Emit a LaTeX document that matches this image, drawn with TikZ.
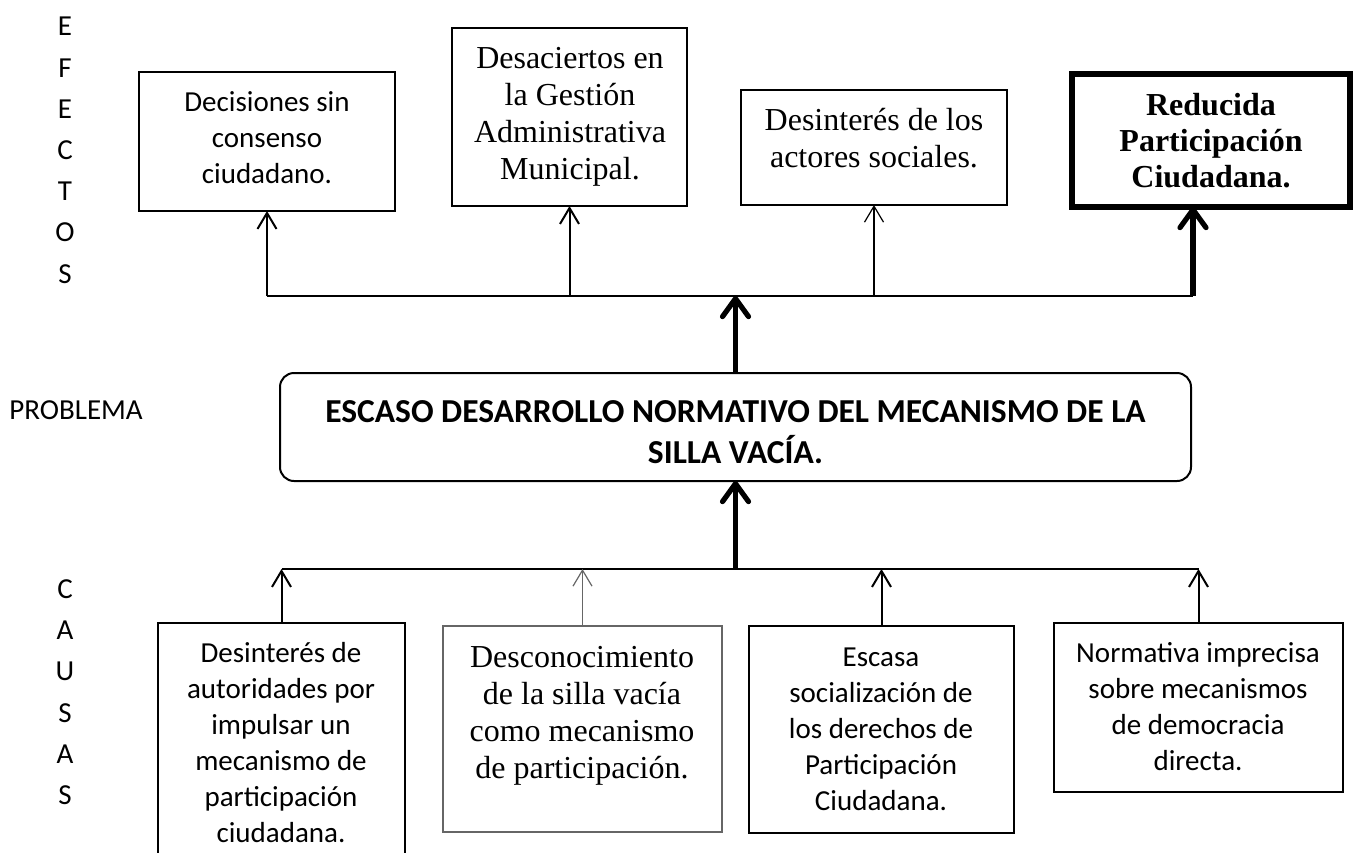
\documentclass[tikz,border=0pt]{standalone}
\usepackage{fontspec}
\newfontfamily\calfont{Carlito}
\newfontfamily\tnrfont{Liberation Serif}
\usetikzlibrary{arrows.meta}
\begin{document}
\begin{tikzpicture}[x=0.5pt,y=-0.5pt,
  box/.style={draw, line width=1pt, rectangle, anchor=north west, inner sep=0pt, outer sep=0pt},
  txt/.style={inner sep=0pt, anchor=north, align=center},
  cal/.style={font=\calfont\fontsize{14.5}{18}\selectfont},
  tnr/.style={font=\tnrfont\fontsize{16}{18.5}\selectfont},
  conn/.style={line width=1pt, -{Straight Barb[length=8pt,width=9.5pt]}},
  thinconn/.style={line width=0.6pt, -{Straight Barb[length=8pt,width=9.5pt]}},
  thickconn/.style={line width=2.6pt, -{Straight Barb[length=9pt,width=13pt,round]}},
  side/.style={inner sep=0pt, align=center, font=\calfont\fontsize{14.5}{20.6}\selectfont}
]
\clip (0,0) rectangle (1360,852);
\useasboundingbox (0,0) rectangle (1360,852);

% side labels
\node[side, anchor=north] (efectos) at (65,6.7) {\strut E\\F\\E\\C\\T\\O\\S};
\node[side, anchor=north] (causas) at (65,569.3) {\strut C\\A\\U\\S\\A\\S};
\node[inner sep=0pt, anchor=base west, font=\calfont\fontsize{14.5}{18}\selectfont] (problema) at (9,419.3) {PROBLEMA};

% effect boxes
\node[box, minimum width=128pt, minimum height=69.5pt] (b1) at (139,72) {};
\node[box, minimum width=117.5pt, minimum height=89pt] (b2) at (452,28) {};
\node[box, minimum width=133pt, minimum height=57.5pt] (b3) at (741,90) {};
\node[box, line width=2.75pt, minimum width=139pt, minimum height=66.5pt] (b4) at (1072,74) {};

\node[txt, cal] (t1) at (267,85.5) {\strut Decisiones sin\\consenso\\ciudadano.};
\node[txt, tnr] (t2) at (570,41.7) {\strut Desaciertos en\\la Gestión\\Administrativa\\Municipal.};
\node[txt, tnr] (t3) at (874,103.7) {\strut Desinterés de los\\actores sociales.};
\node[txt, font=\tnrfont\bfseries\fontsize{16}{18}\selectfont] (t4) at (1211,89.4) {\strut Reducida\\Participación\\Ciudadana.};

% problem box
\node[box, rounded corners=7pt, minimum width=455.5pt, minimum height=54pt] (pb) at (280,373) {};
\node[txt, font=\calfont\bfseries\fontsize{16.75}{20.5}\selectfont] (tp) at (735.5,393.3) {\strut ESCASO DESARROLLO NORMATIVO DEL MECANISMO DE LA\\SILLA VACÍA.};

% cause boxes
\node[box, minimum width=123.5pt, minimum height=128.5pt] (b5) at (158,623) {};
\node[box, draw=black!60, line width=0.6pt, minimum width=139.5pt, minimum height=103pt] (b6) at (443,626) {};
\node[box, minimum width=132.5pt, minimum height=103.5pt] (b7) at (749,626) {};
\node[box, minimum width=144.5pt, minimum height=84.5pt] (b8) at (1054,623) {};

\node[txt, cal] (t5) at (281,636.5) {\strut Desinterés de\\autoridades por\\impulsar un\\mecanismo de\\participación\\ciudadana.};
\node[txt, tnr] (t6) at (582,640.7) {\strut Desconocimiento\\de la silla vacía\\como mecanismo\\de participación.};
\node[txt, cal] (t7) at (881,640.5) {\strut Escasa\\socialización de\\los derechos de\\Participación\\Ciudadana.};
\node[txt, cal] (t8) at (1198,636.5) {\strut Normativa imprecisa\\sobre mecanismos\\de democracia\\directa.};

% connector lines
\coordinate (tl) at (267,296);
\coordinate (tr) at (1193,296);
\coordinate (bl) at (281.5,569);
\coordinate (br) at (1198.5,569);
\draw[line width=1pt] (tl) -- (tr);
\draw[line width=1pt] (bl) -- (br);

\draw[conn] (tl) -- (b1.south);
\draw[conn] (b2.south |- tl) -- (b2.south);
\draw[thinconn] (b3.south |- tl) -- (b3.south);
\draw[thickconn] (tr) -- (tr |- b4.south);

\draw[thickconn] (pb.north) -- (pb.north |- tl);
\draw[thickconn] (pb.south |- bl) -- (pb.south);

\draw[conn] (b5.north) -- (bl);
\draw[thinconn, draw=black!60] (b6.north) -- (b6.north |- bl);
\draw[conn] (b7.north) -- (b7.north |- bl);
\draw[conn] (b8.north) -- (br);
\end{tikzpicture}
\end{document}
